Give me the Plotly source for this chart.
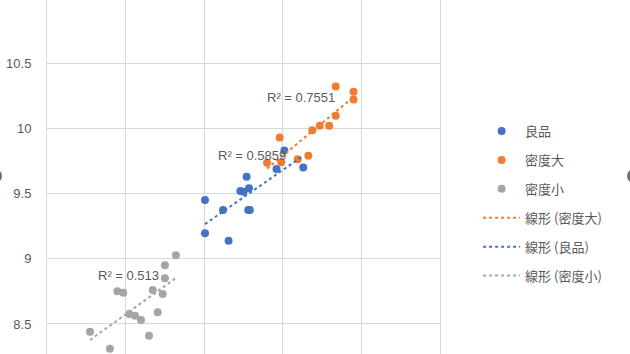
import numpy as np
import plotly.graph_objects as go

# ---- data ----
good_x = [2.01, 2.01, 2.24, 2.31, 2.54, 2.46, 2.50, 2.57, 2.56, 2.58, 2.92, 3.02, 3.26]
good_y = [9.45, 9.195, 9.373, 9.138, 9.628, 9.52, 9.513, 9.54, 9.373, 9.373, 9.687, 9.83, 9.70]

big_x = [2.80, 2.96, 2.98, 3.19, 3.325, 3.376, 3.47, 3.59, 3.673, 3.673, 3.90, 3.90]
big_y = [9.735, 9.93, 9.74, 9.763, 9.79, 9.985, 10.02, 10.02, 10.095, 10.32, 10.28, 10.22]

small_x = [0.547, 0.80, 0.895, 0.97, 1.047, 1.12, 1.196, 1.298, 1.345, 1.408, 1.472, 1.50, 1.50, 1.64]
small_y = [8.44, 8.31, 8.75, 8.74, 8.577, 8.564, 8.53, 8.41, 8.76, 8.59, 8.73, 8.95, 8.85, 9.026]

names = ["良品", "密度大", "密度小"]
trend_names = ["線形 (密度大)", "線形 (良品)", "線形 (密度小)"]
r2_texts = ["R² = 0.7551", "R² = 0.5859", "R² = 0.513"]
r2_pos_x = [3.23, 2.614, 1.043]
r2_pos_y = [10.232, 9.795, 8.868]

y_ticks = [8.5, 9, 9.5, 10, 10.5, 11]

BLUE = "#4472C4"
ORANGE = "#ED7D31"
GRAY = "#A5A5A5"
TXT = "#595959"
GRID = "#D9D9D9"
CJK = "Noto Sans CJK JP, Noto Sans, sans-serif"

fig = go.Figure()

series = [(good_x, good_y, names[0], BLUE),
          (big_x, big_y, names[1], ORANGE),
          (small_x, small_y, names[2], GRAY)]

for i, (xs, ys, nm, col) in enumerate(series):
    fig.add_trace(go.Scatter(x=xs, y=ys, mode="markers", name=nm,
                             legendgroup="g%d" % i,
                             marker=dict(color=col, size=8)))

# linear trendlines computed from data (order: 密度大, 良品, 密度小)
trend_series = [(big_x, big_y, trend_names[0], ORANGE),
                (good_x, good_y, trend_names[1], BLUE),
                (small_x, small_y, trend_names[2], GRAY)]
for i, (xs, ys, nm, col) in enumerate(trend_series):
    xa = np.array(xs)
    ya = np.array(ys)
    m, b = np.polyfit(xa, ya, 1)
    lx = np.array([xa.min(), xa.max()])
    fig.add_trace(go.Scatter(x=lx, y=m * lx + b, mode="lines", name=nm,
                             legendgroup="t%d" % i,
                             line=dict(color=col, width=2, dash="dot")))

for t, ax, ay in zip(r2_texts, r2_pos_x, r2_pos_y):
    fig.add_annotation(x=ax, y=ay, text=t, showarrow=False,
                       font=dict(size=13, color=TXT, family="Liberation Sans, Arial"),
                       xanchor="center", yanchor="middle")

# chart selection handles (partially visible at edges)
def px2paper_x(px):
    return (px - 47) / 393.0

def py2paper_y(py):
    return (354 - py) / 354.0

for cx in [-5, 634]:
    fig.add_shape(type="circle", xref="paper", yref="paper",
                  x0=px2paper_x(cx - 7), x1=px2paper_x(cx + 7),
                  y0=py2paper_y(176 + 7), y1=py2paper_y(176 - 7),
                  fillcolor="#6E6E6E", line=dict(width=0))

fig.update_layout(
    width=630, height=354,
    margin=dict(l=47, r=190, t=0, b=0),
    paper_bgcolor="white", plot_bgcolor="white",
    showlegend=True,
    legend=dict(x=1.097, y=0.672, xanchor="left", yanchor="top",
                font=dict(size=13, color=TXT, family=CJK),
                itemwidth=37,
                tracegroupgap=9, bgcolor="rgba(0,0,0,0)"),
    xaxis=dict(range=[0, 5], dtick=1, tick0=0, showgrid=True, gridcolor=GRID,
               gridwidth=1, showticklabels=False, zeroline=False,
               showline=False),
    yaxis=dict(range=[8.270, 10.983], tickvals=y_ticks,
               ticktext=[("%g" % v) for v in y_ticks],
               showgrid=True, gridcolor=GRID, gridwidth=1, zeroline=False,
               showline=True, linecolor=GRID, linewidth=1, mirror=True,
               tickfont=dict(size=13, color=TXT, family="Liberation Sans, Arial"),
               ticklabelstandoff=12),
)

fig.write_html("out.html")
